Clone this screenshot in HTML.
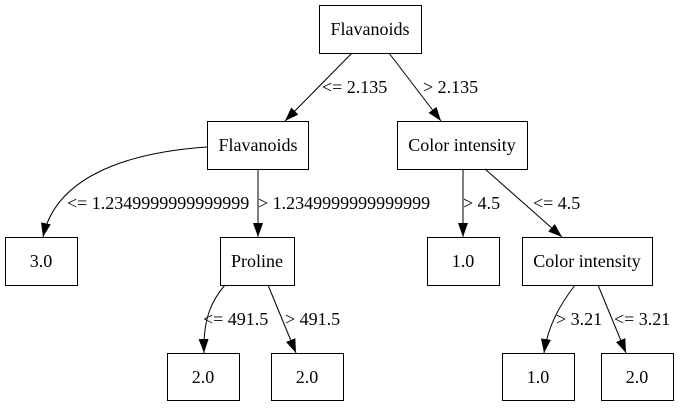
<!DOCTYPE html>
<html><head><meta charset="utf-8"><style>
html,body{margin:0;padding:0;background:#fff;}
svg text{font-family:"Liberation Serif",serif;font-size:18px;fill:#000;}
</style></head><body>
<svg width="680" height="407" viewBox="0 0 680 407" xmlns="http://www.w3.org/2000/svg">
<defs><marker id="a" viewBox="0 0 14 10" refX="14" refY="5" markerWidth="14" markerHeight="10" markerUnits="userSpaceOnUse" orient="auto"><path d="M0,0 L14,5 L0,10 Z" fill="#000"/></marker></defs>
<g fill="none" stroke="#000" stroke-width="1">
<rect x="319.5" y="5.5" width="102" height="48"/>
<rect x="207.5" y="121.5" width="101" height="48"/>
<rect x="397.5" y="121.5" width="130" height="48"/>
<rect x="5.5" y="237.5" width="72" height="48"/>
<rect x="220.5" y="237.5" width="74" height="48"/>
<rect x="427.5" y="237.5" width="72" height="48"/>
<rect x="522.5" y="237.5" width="130" height="48"/>
<rect x="167.5" y="353.5" width="72" height="47"/>
<rect x="271.5" y="353.5" width="72" height="47"/>
<rect x="502.5" y="353.5" width="72" height="47"/>
<rect x="601.5" y="353.5" width="72" height="47"/>
<g marker-end="url(#a)">
<path d="M352,53 L285,121"/>
<path d="M389,53 L441,121"/>
<path d="M207,147 C120,153 55,180 43,237"/>
<path d="M258,169 L258,237"/>
<path d="M463,169 L463,237"/>
<path d="M485,169 L562,237"/>
<path d="M225,285 C212,300 203,318 204,353"/>
<path d="M268,285 L296,353"/>
<path d="M575,285 C560,305 548,325 544,353"/>
<path d="M598,285 L626,353"/>
</g></g>
<g text-anchor="middle">
<text x="370" y="35">Flavanoids</text>
<text x="258" y="151">Flavanoids</text>
<text x="462" y="151">Color intensity</text>
<text x="41" y="267">3.0</text>
<text x="257" y="267">Proline</text>
<text x="463" y="267">1.0</text>
<text x="587" y="267">Color intensity</text>
<text x="203" y="383">2.0</text>
<text x="307" y="383">2.0</text>
<text x="538" y="383">1.0</text>
<text x="637" y="383">2.0</text>
</g>
<text x="322" y="93">&lt;= 2.135</text>
<text x="423" y="93">&gt; 2.135</text>
<text x="67" y="209">&lt;= 1.2349999999999999</text>
<text x="258" y="209">&gt; 1.2349999999999999</text>
<text x="463" y="209">&gt; 4.5</text>
<text x="533" y="209">&lt;= 4.5</text>
<text x="203" y="325">&lt;= 491.5</text>
<text x="285" y="325">&gt; 491.5</text>
<text x="556" y="325">&gt; 3.21</text>
<text x="614" y="325">&lt;= 3.21</text>
</svg>
</body></html>
